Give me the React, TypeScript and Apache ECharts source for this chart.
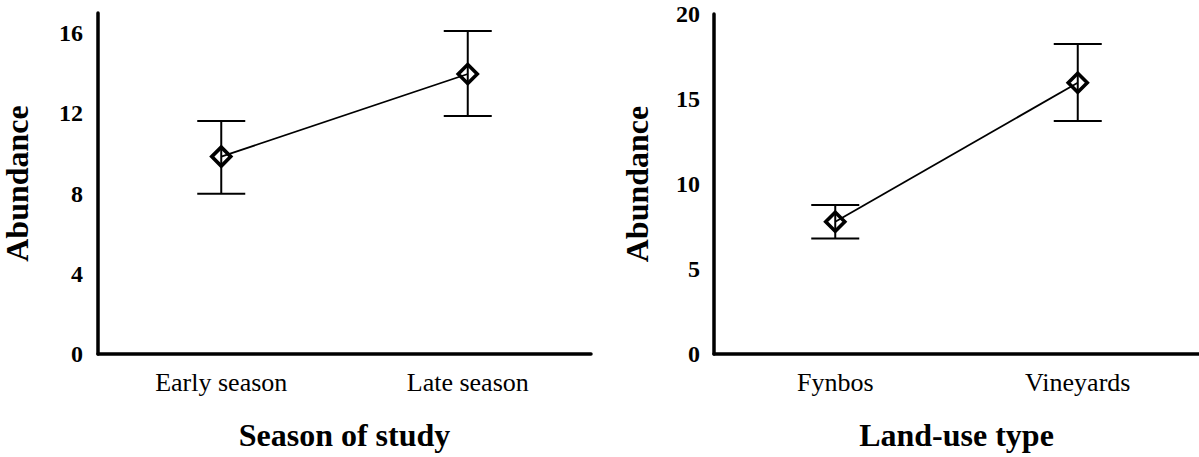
import React, { useEffect, useRef } from "react";
import * as echarts from "echarts";

// Abundance by season of study
const seasonCategories = ["Early season", "Late season"];
const seasonMean = [9.84, 13.96];
const seasonLower = [7.99, 11.86];
const seasonUpper = [11.62, 16.1];
const seasonAxisMax = 17;
const seasonTickStep = 4;

// Abundance by land-use type
const landCategories = ["Fynbos", "Vineyards"];
const landMean = [7.78, 15.96];
const landLower = [6.8, 13.7];
const landUpper = [8.76, 18.24];
const landAxisMax = 20;
const landTickStep = 5;

const FONT = "'Liberation Serif', 'Times New Roman', serif";
const CAP_HALF = 24;

function errorBarSeries(axisIndex: number, lower: number[], upper: number[]) {
  return {
    type: "custom",
    xAxisIndex: axisIndex,
    yAxisIndex: axisIndex,
    z: 1,
    silent: true,
    data: lower.map((lo, i) => [i, lo, upper[i]]),
    encode: { x: 0, y: [1, 2] },
    renderItem: (_params: any, api: any) => {
      const i = api.value(0);
      const top = api.coord([i, api.value(2)]);
      const bot = api.coord([i, api.value(1)]);
      const style = { stroke: "#000", lineWidth: 2 };
      return {
        type: "group",
        children: [
          { type: "line", shape: { x1: top[0], y1: top[1], x2: bot[0], y2: bot[1] }, style },
          { type: "line", shape: { x1: top[0] - CAP_HALF, y1: top[1], x2: top[0] + CAP_HALF, y2: top[1] }, style },
          { type: "line", shape: { x1: bot[0] - CAP_HALF, y1: bot[1], x2: bot[0] + CAP_HALF, y2: bot[1] }, style },
        ],
      };
    },
  };
}

function meanSeries(axisIndex: number, values: number[]) {
  return {
    type: "line",
    xAxisIndex: axisIndex,
    yAxisIndex: axisIndex,
    z: 3,
    data: values,
    symbol: "diamond",
    symbolSize: 19,
    showAllSymbol: true,
    lineStyle: { color: "#000", width: 1.8 },
    itemStyle: { color: "rgba(255,255,255,0)", borderColor: "#000", borderWidth: 3.6 },
    emphasis: { disabled: true },
  };
}

function categoryAxis(gridIndex: number, data: string[], name: string) {
  return {
    type: "category",
    gridIndex,
    data,
    boundaryGap: true,
    axisLine: { show: true, lineStyle: { color: "#000", width: 3.5 } },
    axisTick: { show: false },
    axisLabel: { color: "#000", fontFamily: FONT, fontSize: 26, margin: 15 },
    name,
    nameLocation: "middle",
    nameGap: 65,
    nameTextStyle: { color: "#000", fontFamily: FONT, fontSize: 32, fontWeight: "bold" },
  };
}

function valueAxis(gridIndex: number, max: number, step: number, nameGap: number, labelMargin: number) {
  return {
    type: "value",
    gridIndex,
    min: 0,
    max,
    interval: step,
    axisLine: { show: true, lineStyle: { color: "#000", width: 3.5 } },
    axisTick: { show: false },
    splitLine: { show: false },
    axisLabel: {
      color: "#000",
      fontFamily: FONT,
      fontSize: 24,
      fontWeight: "bold",
      margin: labelMargin,
      formatter: (v: number) => (v % step === 0 ? String(v) : ""),
    },
    name: "Abundance",
    nameLocation: "middle",
    nameGap,
    nameTextStyle: { color: "#000", fontFamily: FONT, fontSize: 32, fontWeight: "bold" },
  };
}

export default function App() {
  const ref = useRef<HTMLDivElement>(null);

  useEffect(() => {
    if (!ref.current) return;
    const chart = echarts.init(ref.current, null, { renderer: "svg" });
    chart.setOption({
      animation: false,
      backgroundColor: "#fff",
      grid: [
        { left: 98, top: 13, width: 493, height: 341 },
        { left: 714, top: 14, width: 490, height: 340 },
      ],
      xAxis: [
        categoryAxis(0, seasonCategories, "Season of study"),
        categoryAxis(1, landCategories, "Land-use type"),
      ],
      yAxis: [
        valueAxis(0, seasonAxisMax, seasonTickStep, 65, 15),
        valueAxis(1, landAxisMax, landTickStep, 61, 14),
      ],
      series: [
        errorBarSeries(0, seasonLower, seasonUpper),
        meanSeries(0, seasonMean),
        errorBarSeries(1, landLower, landUpper),
        meanSeries(1, landMean),
      ],
    });
    return () => chart.dispose();
  }, []);

  return (
    <div
      ref={ref}
      style={{ position: "fixed", left: 0, top: 0, width: 1199, height: 457, background: "#fff" }}
    />
  );
}
